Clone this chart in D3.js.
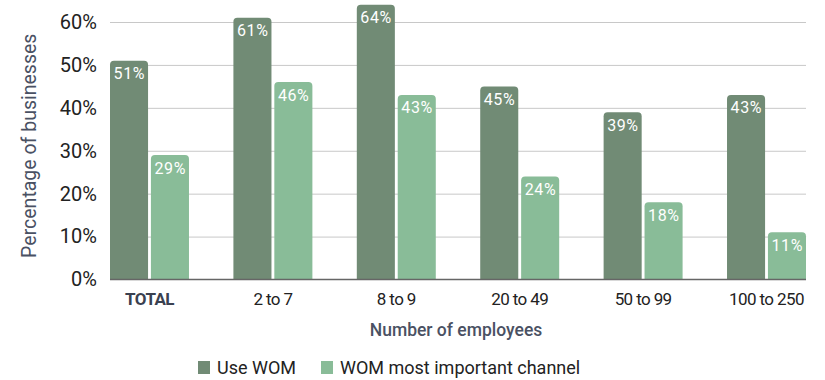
<!DOCTYPE html>
<html>
<head>
<meta charset="utf-8">
<script src="https://cdn.jsdelivr.net/npm/d3@7"></script>
<style>
  html, body { margin: 0; padding: 0; background: #fff; }
  svg { display: block; font-family: Roboto, "Noto Sans", sans-serif; }
</style>
</head>
<body>
<svg id="chart" width="825" height="380"></svg>
<script>
// Employee-size groups on the x axis
const categories = ["TOTAL", "2 to 7", "8 to 9", "20 to 49", "50 to 99", "100 to 250"];
// Share of businesses (%) per group
const useWOM = [51, 61, 64, 45, 39, 43];
const womMostImportant = [29, 46, 43, 24, 18, 11];
const seriesNames = ["Use WOM", "WOM most important channel"];
const yTicks = [0, 10, 20, 30, 40, 50, 60];

const colors = ["#718b75", "#89bc98"];

const svg = d3.select("#chart");
const margin = { left: 110, right: 19 };
const W = 825;
const plotTop = 22, plotBottom = 279.5;

const x0 = d3.scaleBand()
  .domain(categories)
  .range([margin.left, W - margin.right])
  .paddingInner(0.36)
  .paddingOuter(0);

const x1 = d3.scaleBand()
  .domain(seriesNames)
  .range([0, x0.bandwidth()])
  .paddingInner(0.07);

const y = d3.scaleLinear().domain([0, 60]).range([plotBottom, plotTop]);

// Horizontal gridlines
const grid = svg.append("g")
  .attr("transform", `translate(${margin.left},0)`)
  .call(d3.axisLeft(y).tickValues(yTicks.slice(1)).tickSize(-(W - margin.right - margin.left)).tickFormat(""));
grid.select(".domain").remove();
grid.selectAll("line").attr("stroke", "#c8c8c8").attr("stroke-width", 1);

// Y tick labels
const yAxis = svg.append("g")
  .attr("transform", `translate(${margin.left},0)`)
  .call(d3.axisLeft(y).tickValues(yTicks).tickSize(0).tickPadding(13).tickFormat(d => d + "%"));
yAxis.select(".domain").remove();
yAxis.selectAll("text")
  .attr("font-size", 20)
  .attr("font-family", "Roboto, sans-serif")
  .attr("fill", "#222");

// Bars with rounded tops
const data = categories.map((c, i) => ({ cat: c, vals: [useWOM[i], womMostImportant[i]] }));
const r = 4;
function topRoundedRect(x, yTop, w, h, rad) {
  const rr = Math.min(rad, h);
  return `M${x},${yTop + h}V${yTop + rr}Q${x},${yTop} ${x + rr},${yTop}H${x + w - rr}Q${x + w},${yTop} ${x + w},${yTop + rr}V${yTop + h}Z`;
}

const groups = svg.append("g").selectAll("g")
  .data(data)
  .join("g")
  .attr("transform", d => `translate(${x0(d.cat)},0)`);

groups.selectAll("path")
  .data(d => d.vals.map((v, j) => ({ v, s: seriesNames[j], j })))
  .join("path")
  .attr("d", d => topRoundedRect(x1(d.s), y(d.v), x1.bandwidth(), y(0) - y(d.v), r))
  .attr("fill", d => colors[d.j]);

groups.selectAll("text")
  .data(d => d.vals.map((v, j) => ({ v, s: seriesNames[j], j })))
  .join("text")
  .attr("x", d => x1(d.s) + x1.bandwidth() / 2 + 0.3)
  .attr("y", d => y(d.v) + 18.5)
  .attr("text-anchor", "middle")
  .attr("fill", "#fff")
  .attr("font-size", 16)
  .attr("letter-spacing", "0.6px")
  .text(d => d.v + "%");

// Baseline
svg.append("line")
  .attr("x1", margin.left).attr("x2", W - margin.right)
  .attr("y1", y(0)).attr("y2", y(0))
  .attr("stroke", "#666").attr("stroke-width", 1.5);

// Category labels
const xAxis = svg.append("g")
  .attr("transform", `translate(0,${y(0)})`)
  .call(d3.axisBottom(x0).tickSize(0).tickPadding(13));
xAxis.select(".domain").remove();
xAxis.selectAll("text")
  .attr("font-size", 17)
  .attr("font-family", "Roboto, sans-serif")
  .attr("letter-spacing", "-0.6px")
  .attr("font-weight", d => d === "TOTAL" ? 700 : 400)
  .attr("fill", d => d === "TOTAL" ? "#3a4150" : "#222");

// Axis titles
svg.append("text")
  .attr("x", (margin.left + W - margin.right) / 2 - 2)
  .attr("y", 336)
  .attr("text-anchor", "middle")
  .attr("font-size", 17.5)
  .attr("font-weight", 500)
  .attr("fill", "#4a5163")
  .text("Number of employees");

svg.append("text")
  .attr("transform", `translate(36,${(plotTop + plotBottom) / 2 - 5}) rotate(-90)`)
  .attr("text-anchor", "middle")
  .attr("font-size", 19.5)
  .attr("font-weight", 400)
  .attr("fill", "#4a5163")
  .text("Percentage of businesses");

// Legend
const legend = svg.append("g").attr("transform", "translate(0,367)");
const legendX = [198, 321];
seriesNames.forEach((name, i) => {
  legend.append("rect")
    .attr("x", legendX[i]).attr("y", -6)
    .attr("width", 12).attr("height", 13)
    .attr("fill", colors[i]);
  legend.append("text")
    .attr("x", legendX[i] + 19).attr("y", 7)
    .attr("font-size", 18)
    .attr("fill", "#222")
    .text(name);
});
</script>
</body>
</html>
